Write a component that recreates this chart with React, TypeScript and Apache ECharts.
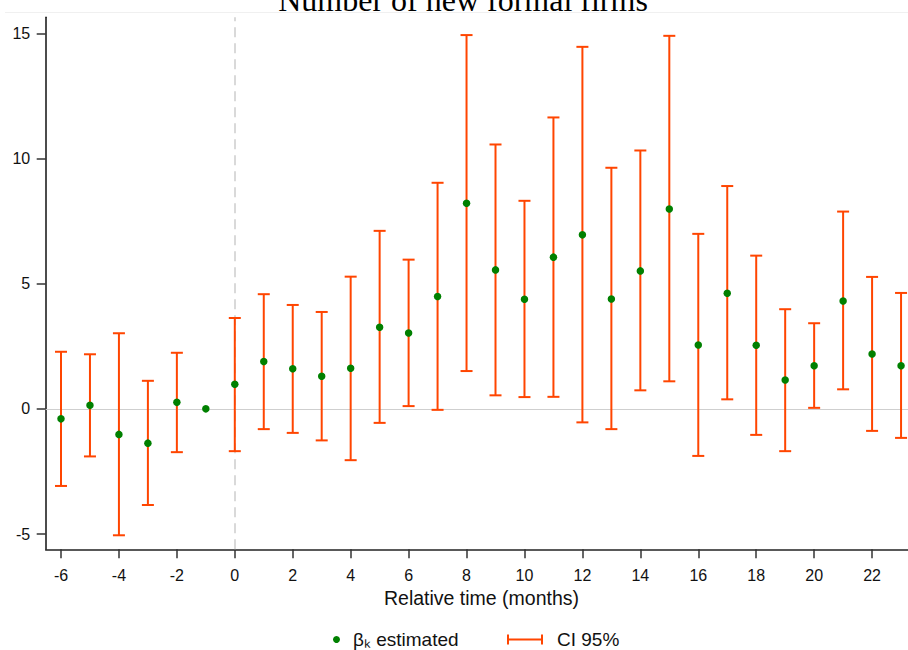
import React, { useEffect, useRef } from "react";
import * as echarts from "echarts";

// ---- data ----
const relTime = [-6, -5, -4, -3, -2, -1, 0, 1, 2, 3, 4, 5, 6, 7, 8, 9, 10, 11, 12, 13, 14, 15, 16, 17, 18, 19, 20, 21, 22, 23];
const betaEstimated = [-0.40, 0.14, -1.02, -1.37, 0.26, 0, 0.98, 1.89, 1.60, 1.30, 1.62, 3.26, 3.03, 4.49, 8.21, 5.55, 4.38, 6.06, 6.95, 4.39, 5.51, 7.98, 2.55, 4.62, 2.54, 1.15, 1.72, 4.31, 2.19, 1.72];
const ciLower = [-3.08, -1.90, -5.05, -3.84, -1.73, null, -1.69, -0.81, -0.96, -1.26, -2.05, -0.56, 0.11, -0.04, 1.51, 0.54, 0.47, 0.48, -0.54, -0.81, 0.74, 1.10, -1.88, 0.38, -1.04, -1.69, 0.04, 0.78, -0.88, -1.16];
const ciUpper = [2.28, 2.18, 3.02, 1.12, 2.24, null, 3.63, 4.58, 4.15, 3.87, 5.28, 7.11, 5.96, 9.03, 14.93, 10.56, 8.31, 11.64, 14.46, 9.63, 10.32, 14.90, 6.99, 8.90, 6.12, 3.98, 3.42, 7.88, 5.27, 4.63];
const xTicks = [-6, -4, -2, 0, 2, 4, 6, 8, 10, 12, 14, 16, 18, 20, 22];
const yTicks = [-5, 0, 5, 10, 15];

const titleText = "Number of new formal firms";
const xAxisTitle = "Relative time (months)";
const betaName = "β\u2096 estimated";
const ciName = "CI 95%";

const GREEN = "#008000";
const ORANGE = "#FF4500";
const SANS = "'Liberation Sans', Arial, Helvetica, sans-serif";
const SERIF = "'Liberation Serif', 'Times New Roman', serif";

export default function App() {
  const ref = useRef<HTMLDivElement>(null);

  useEffect(() => {
    if (!ref.current) return;
    const chart = echarts.init(ref.current, null, { renderer: "svg" });

    const pointData = relTime.map((t, i) => [t, betaEstimated[i]]);
    const ciData = relTime
      .map((t, i) => [t, ciLower[i], ciUpper[i]])
      .filter((d) => d[1] !== null && d[2] !== null);

    const option: any = {
      animation: false,
      backgroundColor: "#ffffff",
      textStyle: { fontFamily: SANS },
      grid: { left: 45.7, top: 17.3, right: 0, bottom: 100.7, containLabel: false },
      graphic: [
        {
          type: "line",
          shape: { x1: 5, y1: 12.5, x2: 908, y2: 12.5 },
          style: { stroke: "#f0f0f0", lineWidth: 1 },
          silent: true,
          z: 0,
        },
        {
          type: "text",
          x: 463,
          y: 0,
          style: {
            text: titleText,
            font: `32px ${SERIF}`,
            fill: "#000",
            align: "center",
            verticalAlign: "middle",
          },
          silent: true,
          z: 10,
        },
      ],
      xAxis: {
        type: "value",
        min: -6.528,
        max: 23.24,
        name: xAxisTitle,
        nameLocation: "middle",
        nameGap: 36,
        nameTextStyle: { fontSize: 19.5, color: "#111", fontFamily: SANS, padding: [0, 0, 0, 9.3] },
        axisLine: { show: true, onZero: false, lineStyle: { color: "#222", width: 1.5 } },
        axisTick: { show: true, length: 9, lineStyle: { color: "#333", width: 1.5 }, customValues: xTicks },
        axisLabel: { fontSize: 16, color: "#111", margin: 18, customValues: xTicks, fontFamily: SANS },
        splitLine: { show: false },
      },
      yAxis: {
        type: "value",
        min: -5.61,
        max: 15.64,
        axisLine: { show: true, onZero: false, lineStyle: { color: "#111", width: 1.5 } },
        axisTick: { show: true, length: 9, lineStyle: { color: "#333", width: 1.5 }, customValues: yTicks },
        axisLabel: { fontSize: 16, color: "#111", margin: 15.5, customValues: yTicks, fontFamily: SANS },
        splitLine: { show: false },
      },
      legend: [
        {
          data: [{ name: betaName, icon: "circle" }],
          left: 333,
          top: 630,
          padding: 0,
          itemWidth: 7,
          itemHeight: 7,
          selectedMode: false,
          textStyle: { fontSize: 19, lineHeight: 17, color: "#111", fontFamily: SANS, padding: [0, 0, 0, 8] },
        },
        {
          data: [{ name: ciName, icon: "path://M0,0H2V4H34V0H36V10H34V6H2V10H0Z" }],
          left: 507,
          top: 630,
          padding: 0,
          itemWidth: 36,
          itemHeight: 10,
          selectedMode: false,
          textStyle: { fontSize: 19, lineHeight: 17, color: "#111", fontFamily: SANS, padding: [0, 0, 0, 9] },
        },
      ],
      series: [
        {
          type: "line",
          name: "refLines",
          data: [],
          silent: true,
          z: 1,
          markLine: {
            silent: true,
            symbol: "none",
            z: 1,
            label: { show: false },
            animation: false,
            data: [
              { yAxis: 0, lineStyle: { color: "#cfcfcf", width: 1.2, type: "solid" } },
              { xAxis: 0, lineStyle: { color: "#d9d9d9", width: 2, type: [10, 6] } },
            ],
          },
        },
        {
          type: "custom",
          name: ciName,
          data: ciData,
          z: 3,
          itemStyle: { color: ORANGE },
          encode: { x: 0, y: [1, 2] },
          renderItem: (params: any, api: any) => {
            const x = api.value(0);
            const lo = api.value(1);
            const hi = api.value(2);
            const top = api.coord([x, hi]);
            const bot = api.coord([x, lo]);
            const hw = 6;
            const style = { stroke: ORANGE, lineWidth: 2, fill: "none" };
            return {
              type: "group",
              children: [
                { type: "line", shape: { x1: top[0], y1: top[1], x2: bot[0], y2: bot[1] }, style },
                { type: "line", shape: { x1: top[0] - hw, y1: top[1], x2: top[0] + hw, y2: top[1] }, style },
                { type: "line", shape: { x1: bot[0] - hw, y1: bot[1], x2: bot[0] + hw, y2: bot[1] }, style },
              ],
            };
          },
        },
        {
          type: "scatter",
          name: betaName,
          data: pointData,
          symbol: "circle",
          symbolSize: 7.5,
          z: 4,
          itemStyle: { color: GREEN, opacity: 1 },
        },
      ],
    };

    chart.setOption(option);
    return () => chart.dispose();
  }, []);

  return (
    <div
      ref={ref}
      style={{ position: "fixed", left: 0, top: 0, width: 908, height: 650, background: "#fff" }}
    />
  );
}
